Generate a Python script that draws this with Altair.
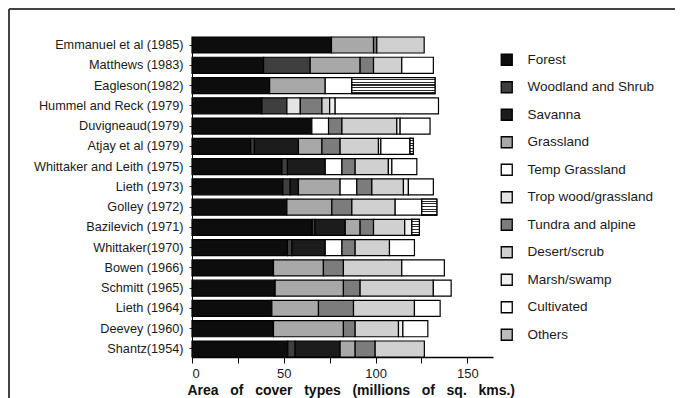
import altair as alt
import pandas as pd

studies = [
    "Emmanuel et al (1985)", "Matthews (1983)", "Eagleson(1982)",
    "Hummel and Reck (1979)", "Duvigneaud(1979)", "Atjay et al (1979)",
    "Whittaker and Leith (1975)", "Lieth (1973)", "Golley (1972)",
    "Bazilevich (1971)", "Whittaker(1970)", "Bowen (1966)",
    "Schmitt (1965)", "Lieth (1964)", "Deevey (1960)", "Shantz(1954)",
]
categories = [
    "Forest", "Woodland and Shrub", "Savanna", "Grassland", "Temp Grassland",
    "Trop wood/grassland", "Tundra and alpine", "Desert/scrub", "Marsh/swamp",
    "Cultivated", "Others",
]

# areas (millions of sq. km) per study
forest      = [76.0, 39.0, 42.3, 38.1, 65.3, 32.0, 49.0, 49.5, 51.7, 65.5, 52.0, 44.4, 45.3, 43.5, 44.4, 52.2]
woodland    = [0.0, 25.4, 0.0, 13.6, 0.0, 2.0, 3.0, 4.0, 0.0, 1.5, 2.5, 0.0, 0.0, 0.0, 0.0, 4.0]
savanna     = [0.0, 0.0, 0.0, 0.0, 0.0, 24.0, 20.6, 4.5, 0.0, 16.5, 18.1, 0.0, 0.0, 0.0, 0.0, 24.5]
grassland   = [22.9, 27.2, 30.3, 0.0, 0.0, 12.8, 0.0, 22.7, 24.5, 8.1, 0.0, 27.2, 37.2, 25.4, 38.1, 8.2]
temp_grass  = [0.0, 0.0, 0.0, 0.0, 9.1, 0.0, 9.1, 9.1, 0.0, 0.0, 9.1, 0.0, 0.0, 0.0, 0.0, 0.0]
trop_wood   = [0.0, 0.0, 0.0, 7.3, 0.0, 0.0, 0.0, 0.0, 0.0, 0.0, 0.0, 0.0, 0.0, 0.0, 0.0, 0.0]
tundra      = [1.8, 7.3, 0.0, 11.8, 7.3, 9.9, 7.2, 8.2, 10.9, 7.3, 7.2, 10.9, 9.1, 19.1, 6.4, 10.9]
desert      = [25.8, 15.4, 0.0, 4.2, 29.9, 20.9, 18.1, 17.2, 23.6, 17.0, 18.7, 31.8, 39.9, 33.2, 23.6, 26.8]
marsh       = [0.0, 0.0, 0.0, 3.0, 1.8, 1.3, 1.9, 2.7, 0.0, 3.9, 0.0, 0.0, 0.0, 0.0, 2.4, 0.0]
cultivated  = [0.0, 17.2, 14.5, 56.3, 16.3, 15.9, 13.6, 13.6, 14.5, 0.0, 13.6, 23.2, 9.7, 14.0, 13.6, 0.0]
others      = [0.0, 0.0, 45.3, 0.0, 0.0, 1.8, 0.0, 0.0, 8.2, 4.1, 0.0, 0.0, 0.0, 0.0, 0.0, 0.0]

series = [forest, woodland, savanna, grassland, temp_grass, trop_wood,
          tundra, desert, marsh, cultivated, others]

fills = ["#0d0d0d", "#3f3f3f", "#1c1c1c", "#a8a8a8", "#ffffff", "#e4e4e4",
         "#7c7c7c", "#d0d0d0", "#f0f0f0", "#ffffff", "#bcbcbc"]

rows = []
for k, (cat, vals) in enumerate(zip(categories, series)):
    for s, v in zip(studies, vals):
        if v > 0:
            rows.append({"study": s, "cover": cat, "area": v, "k": k})
df = pd.DataFrame(rows)

FONT = "Liberation Sans"
SP = " \u00a0\u00a0"
xtitle = SP.join(["Area", "of", "cover", "types", "(millions", "of", "sq.", "kms.)"])

# horizontal line pattern for "Others"
stops = []
n_lines = 6
for i in range(n_lines):
    a, b, c = i / n_lines, (i + 0.6) / n_lines, (i + 1) / n_lines
    stops += [alt.GradientStop(color="#ffffff", offset=a),
              alt.GradientStop(color="#ffffff", offset=b),
              alt.GradientStop(color="#2a2a2a", offset=b),
              alt.GradientStop(color="#2a2a2a", offset=c)]
stripe_fill = alt.Gradient(gradient="linear", stops=stops, x1=0, y1=0, x2=0, y2=1)

base = alt.Chart(df).transform_stack(
    stack="area", groupby=["study"], as_=["x0", "x1"],
    sort=[alt.SortField("k", order="ascending")],
)

yenc = alt.Y("study:N", sort=studies,
             scale=alt.Scale(paddingInner=0.21, paddingOuter=0),
             axis=alt.Axis(title=None, labelFontSize=12.7, labelColor="#1a1a1a",
                           labelFont=FONT, tickSize=3, tickColor="#333",
                           labelPadding=6, domainColor="black"))

bars = base.mark_bar(stroke="black", strokeWidth=1.2).encode(
    y=yenc,
    x=alt.X("x0:Q",
            scale=alt.Scale(domain=[0, 164], nice=False),
            axis=alt.Axis(title=xtitle, values=[0, 25, 50, 75, 100, 125, 150],
                          labelExpr="datum.value % 50 === 0 ? datum.label : ''",
                          labelFontSize=13, labelFont=FONT, labelColor="#1a1a1a",
                          tickSize=6, tickColor="black", domainColor="black",
                          domainWidth=1.5, labelPadding=4, grid=False,
                          titleFont=FONT, titleFontSize=14, titleFontWeight="bold",
                          titleColor="#111", titleAlign="left", titleX=-5,
                          titlePadding=3)),
    x2="x1:Q",
    color=alt.Color("cover:N", scale=alt.Scale(domain=categories, range=fills),
                    legend=alt.Legend(title=None, orient="none", legendX=308,
                                      legendY=16, symbolType="square",
                                      symbolSize=121, symbolStrokeColor="black",
                                      symbolStrokeWidth=1.3, labelFontSize=13.5,
                                      labelFont=FONT, labelColor="#1a1a1a",
                                      labelOffset=14, rowPadding=10.5,
                                      padding=0, labelLimit=300)),
)

stripes = base.transform_filter(alt.datum.cover == "Others").mark_bar(
    stroke="black", strokeWidth=1.2, fill=stripe_fill
).encode(
    y=alt.Y("study:N", sort=studies),
    x="x0:Q",
    x2="x1:Q",
)

frame_left = alt.Chart(df).mark_rule(color="#444", strokeWidth=1.5).encode(
    x=alt.value(-183), y=alt.value(-28), y2=alt.value(400))
frame_top = alt.Chart(df).mark_rule(color="#444", strokeWidth=1.5).encode(
    x=alt.value(-183), x2=alt.value(500), y=alt.value(-28))

chart = alt.layer(bars, stripes, frame_left, frame_top).properties(
    width=301, height=320,
    autosize=alt.AutoSizeParams(type="none"),
    padding={"left": 184, "top": 29, "right": 182, "bottom": 61},
    background="white",
).configure_view(stroke=None)

chart.save("out.html", embed_options={"renderer": "svg", "actions": False})
